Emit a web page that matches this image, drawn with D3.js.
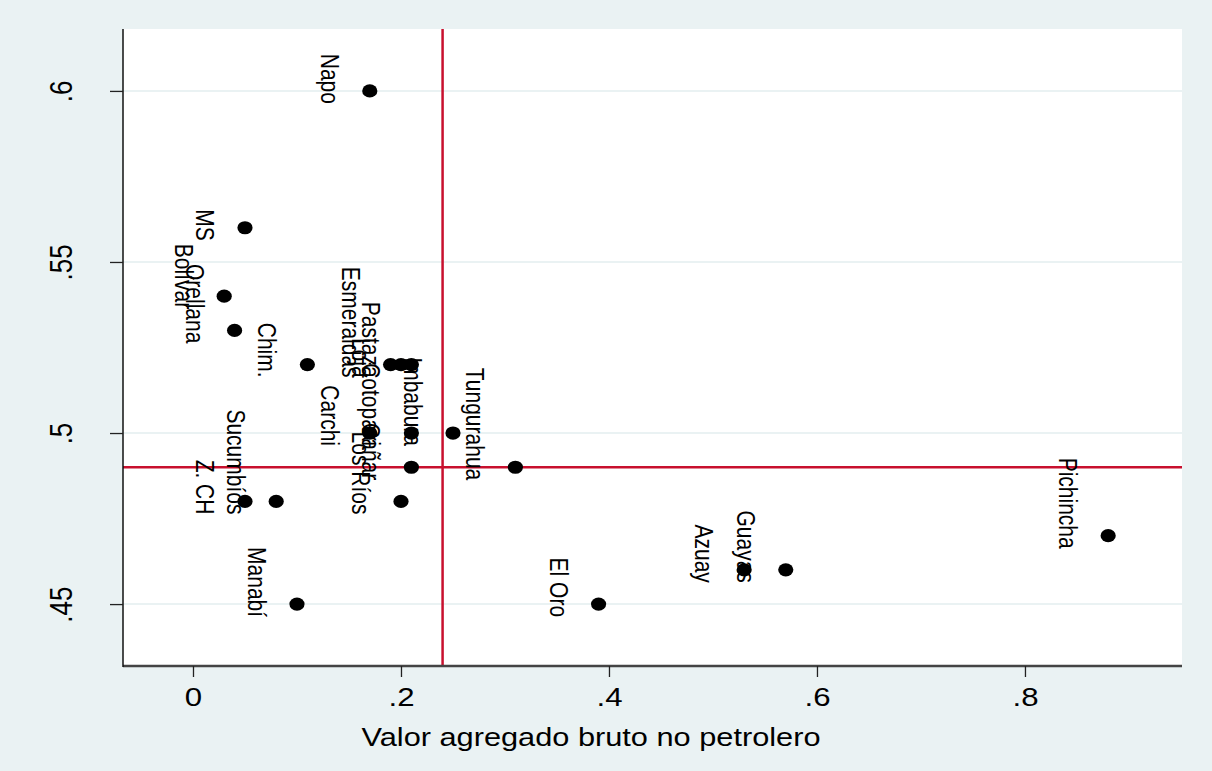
<!DOCTYPE html>
<html>
<head>
<meta charset="utf-8">
<script src="https://cdn.jsdelivr.net/npm/d3@7"></script>
<style>
  html, body { margin: 0; padding: 0; background: #EAF2F3; }
  svg { display: block; }
  text { font-family: "Liberation Sans", Arial, Helvetica, sans-serif; fill: #000; }
</style>
</head>
<body>
<svg id="chart" width="1212" height="771"></svg>
<script>
// Provinces, non-oil gross value added share (x) and index value (y)
const provinces = ["Napo", "MS", "Bolívar", "Orellana", "Chim.", "Esmeraldas", "Loja", "Pastaza",
  "Imbabura", "Carchi", "Cotopaxi", "Tungurahua", "Cañar", "Los Ríos", "Sucumbíos", "Z. CH",
  "Manabí", "El Oro", "Azuay", "Guayas", "Pichincha"];
const xValues = [0.17, 0.05, 0.03, 0.04, 0.11, 0.19, 0.20, 0.21,
  0.25, 0.17, 0.21, 0.31, 0.21, 0.20, 0.08, 0.05,
  0.10, 0.39, 0.53, 0.57, 0.88];
const yValues = [0.60, 0.56, 0.54, 0.53, 0.52, 0.52, 0.52, 0.52,
  0.50, 0.50, 0.50, 0.49, 0.49, 0.48, 0.48, 0.48,
  0.45, 0.45, 0.46, 0.46, 0.47];

const xTicks = [0, 0.2, 0.4, 0.6, 0.8];
const xTickLabels = ["0", ".2", ".4", ".6", ".8"];
const yTicks = [0.45, 0.5, 0.55, 0.6];
const yTickLabels = [".45", ".5", ".55", ".6"];

// Reference lines (means)
const xRef = 0.24;
const yRef = 0.49;
const xTitle = "Valor agregado bruto no petrolero";

const points = provinces.map((p, i) => ({ name: p, x: xValues[i], y: yValues[i] }));

const plot = { left: 123, right: 1182, top: 29, bottom: 666 };
const sx = 1.2; // horizontal glyph stretch

const x = d3.scaleLinear().domain([-0.0673, 0.951]).range([plot.left, plot.right]);
const y = d3.scaleLinear().domain([0.4319, 0.6181]).range([plot.bottom, plot.top]);

const svg = d3.select("#chart");
const red = "#C8102E";

// plot region
svg.append("rect")
  .attr("x", plot.left).attr("y", plot.top)
  .attr("width", plot.right - plot.left).attr("height", plot.bottom - plot.top)
  .attr("fill", "#fff");

// horizontal gridlines
svg.append("g").selectAll("line").data(yTicks).join("line")
  .attr("x1", plot.left).attr("x2", plot.right)
  .attr("y1", d => y(d)).attr("y2", d => y(d))
  .attr("stroke", "#EAF2F3").attr("stroke-width", 2);

// reference lines
svg.append("line")
  .attr("x1", x(xRef)).attr("x2", x(xRef))
  .attr("y1", plot.top).attr("y2", plot.bottom)
  .attr("stroke", red).attr("stroke-width", 2.5);
svg.append("line")
  .attr("x1", plot.left).attr("x2", plot.right)
  .attr("y1", y(yRef)).attr("y2", y(yRef))
  .attr("stroke", red).attr("stroke-width", 2.5);

// axes
const xAxis = d3.axisBottom(x).tickValues(xTicks)
  .tickFormat((d, i) => xTickLabels[i]).tickSize(11).tickSizeOuter(0).tickPadding(4);
const gx = svg.append("g").attr("transform", `translate(0,${plot.bottom})`).call(xAxis);
gx.select(".domain").attr("stroke", "#444").attr("stroke-width", 2.5)
  .attr("d", `M${plot.left},0H${plot.right}`);
gx.selectAll(".tick line").attr("stroke", "#222").attr("stroke-width", 1.3);
gx.selectAll(".tick text")
  .attr("y", null).attr("dy", null)
  .attr("font-size", 26)
  .attr("text-anchor", "middle")
  .attr("transform", `translate(0,40) scale(${sx},1)`)
  .attr("x", 0);

const yAxis = d3.axisLeft(y).tickValues(yTicks)
  .tickFormat((d, i) => yTickLabels[i]).tickSize(13).tickSizeOuter(0);
const gy = svg.append("g").attr("transform", `translate(${plot.left},0)`).call(yAxis);
gy.select(".domain").attr("stroke", "#111").attr("stroke-width", 1.5)
  .attr("d", `M0,${plot.top}V${plot.bottom + 1}`);
gy.selectAll(".tick line").attr("stroke", "#222").attr("stroke-width", 1.3);
gy.selectAll(".tick text")
  .attr("x", null).attr("dy", null).attr("y", null)
  .attr("font-size", 26)
  .attr("text-anchor", "middle")
  .attr("transform", `translate(-51,0) scale(${sx},1) rotate(-90)`);
svg.selectAll(".tick text").attr("fill", "#000").attr("font-family", "Liberation Sans, Arial, sans-serif");

// axis title
svg.append("text")
  .attr("x", 591).attr("y", 746)
  .attr("text-anchor", "middle")
  .attr("font-size", 25.5)
  .attr("textLength", 459)
  .attr("lengthAdjust", "spacingAndGlyphs")
  .text(xTitle);

// marker labels, rotated, ending just below each marker on its left
svg.append("g").selectAll("text").data(points).join("text")
  .attr("font-size", 21)
  .attr("text-anchor", "end")
  .attr("transform", d => `translate(${x(d.x) - 49},${y(d.y) + 13}) scale(${sx},1) rotate(90)`)
  .text(d => d.name);

// markers
svg.append("g").selectAll("ellipse").data(points).join("ellipse")
  .attr("cx", d => x(d.x)).attr("cy", d => y(d.y))
  .attr("rx", 7.6).attr("ry", 6.6)
  .attr("fill", "#000");
</script>
</body>
</html>
